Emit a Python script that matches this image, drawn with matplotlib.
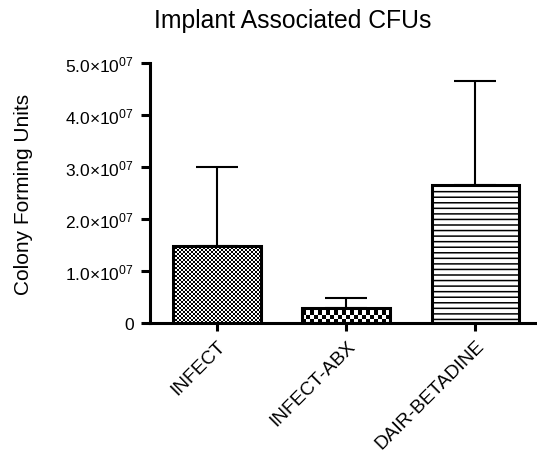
import numpy as np
import matplotlib
matplotlib.use('Agg')
import matplotlib.pyplot as plt

categories = ['INFECT', 'INFECT-ABX', 'DAIR-BETADINE']
means = [1.48e7, 2.9e6, 2.66e7]
sem = [1.52e7, 1.9e6, 1.99e7]
yticks = [0, 1e7, 2e7, 3e7, 4e7, 5e7]
ytick_labels = ['0', r'$1.0{\times}10^{07}$', r'$2.0{\times}10^{07}$',
                r'$3.0{\times}10^{07}$', r'$4.0{\times}10^{07}$', r'$5.0{\times}10^{07}$']
textures = ['fine', 'coarse', 'hlines']

plt.rcParams['font.family'] = ['Liberation Sans', 'DejaVu Sans']
plt.rcParams['mathtext.fontset'] = 'custom'
plt.rcParams['mathtext.rm'] = 'Liberation Sans'
plt.rcParams['mathtext.it'] = 'Liberation Sans:italic'
plt.rcParams['mathtext.bf'] = 'Liberation Sans:bold'
plt.rcParams['hatch.linewidth'] = 1.1

W, H = 537, 460
fig = plt.figure(figsize=(W / 100, H / 100), dpi=100)
ax = fig.add_axes([150 / W, 136 / H, 390 / W, 260 / H])
x = np.arange(len(categories))
bw = 0.68
xlim = (-0.52, 2.5)
ylim = (0, 5e7)
ax.set_xlim(*xlim)
ax.set_ylim(*ylim)

bars = ax.bar(x, means, bw, color='white', edgecolor='none', zorder=2)
ax.errorbar(x, means, yerr=[np.zeros(len(x)), sem], fmt='none', ecolor='black',
            elinewidth=1.5, capsize=15, capthick=1.5, zorder=1.5)


def make_tex(nx, ny):
    i, j = np.meshgrid(np.arange(nx), np.arange(ny))
    return ((i + j) % 2).astype(float)


for b, kind in zip(bars, textures):
    if kind == 'hlines':
        continue
    x0, y0 = b.get_x(), b.get_y()
    x1, y1 = x0 + b.get_width(), y0 + b.get_height()
    (px0, py0), (px1, py1) = ax.transData.transform([(x0, y0), (x1, y1)])
    wpx, hpx = px1 - px0, py1 - py0
    sq = {'fine': 2, 'coarse': 4}[kind]
    nx = int(np.ceil(wpx / sq)) + 1
    ny = int(np.ceil(hpx / sq)) + 1
    arr = make_tex(nx, ny)
    ex1 = x0 + nx * sq * (x1 - x0) / wpx
    ey1 = y0 + ny * sq * (y1 - y0) / hpx
    im = ax.imshow(arr, cmap='gray', vmin=0, vmax=1, extent=(x0, ex1, y0, ey1),
                   origin='lower', interpolation='nearest', aspect='auto', zorder=2.5)
    im.set_clip_path(b)

outline = ax.bar(x, means, bw, facecolor='none', edgecolor='black', linewidth=2.2, zorder=3)
for o, kind in zip(outline, textures):
    if kind == 'hlines':
        o.set_hatch('---')
ax.set_xlim(*xlim)
ax.set_ylim(*ylim)

for s in ['top', 'right']:
    ax.spines[s].set_visible(False)
for s in ['left', 'bottom']:
    ax.spines[s].set_linewidth(2.2)
ax.spines['bottom'].set_zorder(4)

ax.set_yticks(yticks)
ax.set_yticklabels(ytick_labels, fontsize=12.5)
ax.set_xticks(x)
ax.set_xticklabels(categories, fontsize=13.8, rotation=45, ha='right', rotation_mode='anchor')
ax.tick_params(axis='y', direction='out', length=6.5, width=2.2, pad=5)
ax.tick_params(axis='x', direction='out', length=6, width=2.2, pad=4)
ax.set_ylabel('Colony Forming Units', fontsize=15, labelpad=23)

fig.text(293 / W, 1 - 28 / H, 'Implant Associated CFUs', ha='center', va='baseline', fontsize=17.8)

fig.savefig('out.png', dpi=100)
